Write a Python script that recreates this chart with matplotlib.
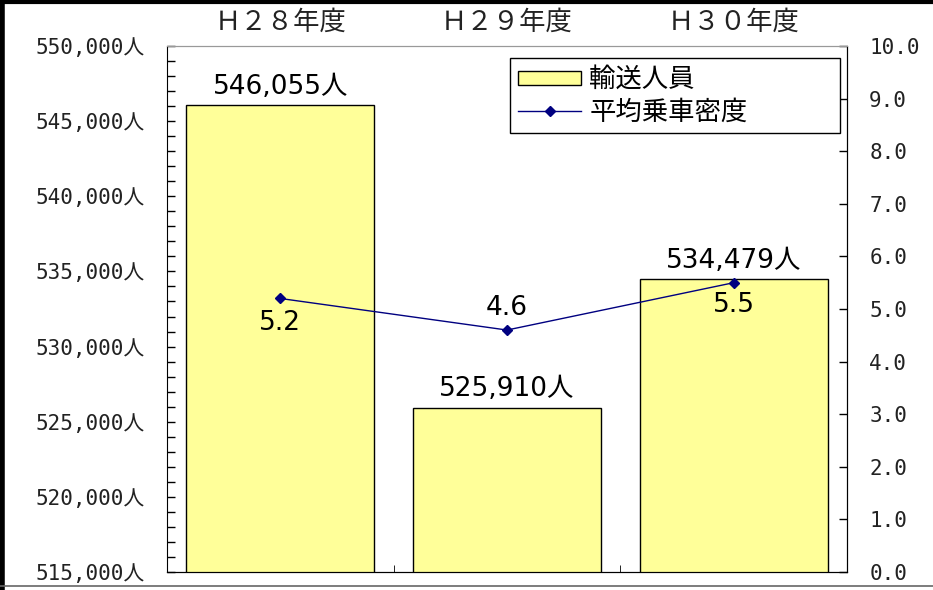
import matplotlib
matplotlib.use("Agg")
import matplotlib.pyplot as plt
from matplotlib.lines import Line2D
from matplotlib.ticker import MultipleLocator, FuncFormatter
import numpy as np

plt.rcParams['font.family'] = ['DejaVu Sans', 'Noto Sans CJK JP']

# data
years = ["Ｈ２８年度", "Ｈ２９年度", "Ｈ３０年度"]
passengers = [546055, 525910, 534479]
density = [5.2, 4.6, 5.5]
series_names = ["輸送人員", "平均乗車密度"]

bar_color = "#FFFF99"
line_color = "#000080"
mono = ['DejaVu Sans Mono', 'Noto Sans CJK JP']
cjk = ['Noto Sans CJK JP', 'DejaVu Sans']

fig = plt.figure(figsize=(9.33, 5.9), dpi=100)
ax = fig.add_axes([167/933, 1-572/590, 680/933, 526/590])
x = np.arange(len(years))

bars = ax.bar(x, passengers, width=0.83, color=bar_color, edgecolor="black",
              linewidth=1, zorder=2)
ax.set_ylim(515000, 550000)
ax.set_xlim(-0.5, 2.5)

ax.yaxis.set_major_locator(MultipleLocator(5000))
ax.yaxis.set_minor_locator(MultipleLocator(1000))
ax.yaxis.set_major_formatter(FuncFormatter(lambda v, p: f"{int(v):,}人"))
ax.tick_params(axis='y', which='both', direction='in', length=6, width=1,
               labelsize=15, labelcolor="#222222", pad=16)
for t in ax.get_yticklabels():
    t.set_family(mono)

ax.set_xticks(x, labels=years)
ax.set_xticks([0.5, 1.5], minor=True)
ax.tick_params(axis='x', which='major', bottom=False, top=False,
               labelbottom=False, labeltop=True, labelsize=19,
               labelcolor="#222222", pad=4)
ax.tick_params(axis='x', which='minor', direction='in', length=5, bottom=True)
for t in ax.get_xticklabels():
    t.set_family(cjk)

ax.spines['top'].set_color("#999999")

# bar value labels
for xi, v in zip(x, passengers):
    ax.annotate(f"{v:,}人", (xi, v), xytext=(0, 4), textcoords="offset points",
                ha="center", va="bottom", fontsize=19)

ax2 = ax.twinx()
ax2.plot(x, density, color=line_color, marker="D", markersize=5, linewidth=1)
ax2.set_ylim(0, 10)
ax2.yaxis.set_major_locator(MultipleLocator(1))
ax2.yaxis.set_major_formatter(FuncFormatter(lambda v, p: f"{v:.1f}"))
ax2.tick_params(axis='y', direction='in', length=6, width=1, labelsize=15,
                labelcolor="#222222", pad=16)
for t in ax2.get_yticklabels():
    t.set_family(mono)
ax2.spines['top'].set_color("#999999")
ax2.spines['left'].set_visible(False)

# line value labels
offsets = [-18, 16, -16]
for xi, v, off in zip(x, density, offsets):
    ax2.annotate(f"{v:.1f}", (xi, v), xytext=(0, off), textcoords="offset points",
                 ha="center", va="center", fontsize=19)

handles = [bars, Line2D([], [], color=line_color, marker="D", markersize=5, linewidth=1)]
leg = ax2.legend(handles, series_names, loc="upper left", mode="expand",
                 bbox_to_anchor=((510-167)/680, 0.977 - 0.16, (840-510)/680, 0.16),
                 borderaxespad=0, fancybox=False,
                 edgecolor="black", framealpha=1, prop={'family': cjk, 'size': 19},
                 handlelength=2.4, handleheight=0.45, handletextpad=0.3,
                 numpoints=1, borderpad=0.3, labelspacing=0.2)
leg.get_frame().set_linewidth(1)

# outer frame
fig.add_artist(Line2D([0.002, 0.002], [0, 1], transform=fig.transFigure, color="black", linewidth=4))
fig.add_artist(Line2D([0, 1], [0.997, 0.997], transform=fig.transFigure, color="black", linewidth=3))
fig.add_artist(Line2D([0, 1], [1-586/590, 1-586/590], transform=fig.transFigure, color="#666666", linewidth=1.2))

fig.savefig("out.png", dpi=100)
